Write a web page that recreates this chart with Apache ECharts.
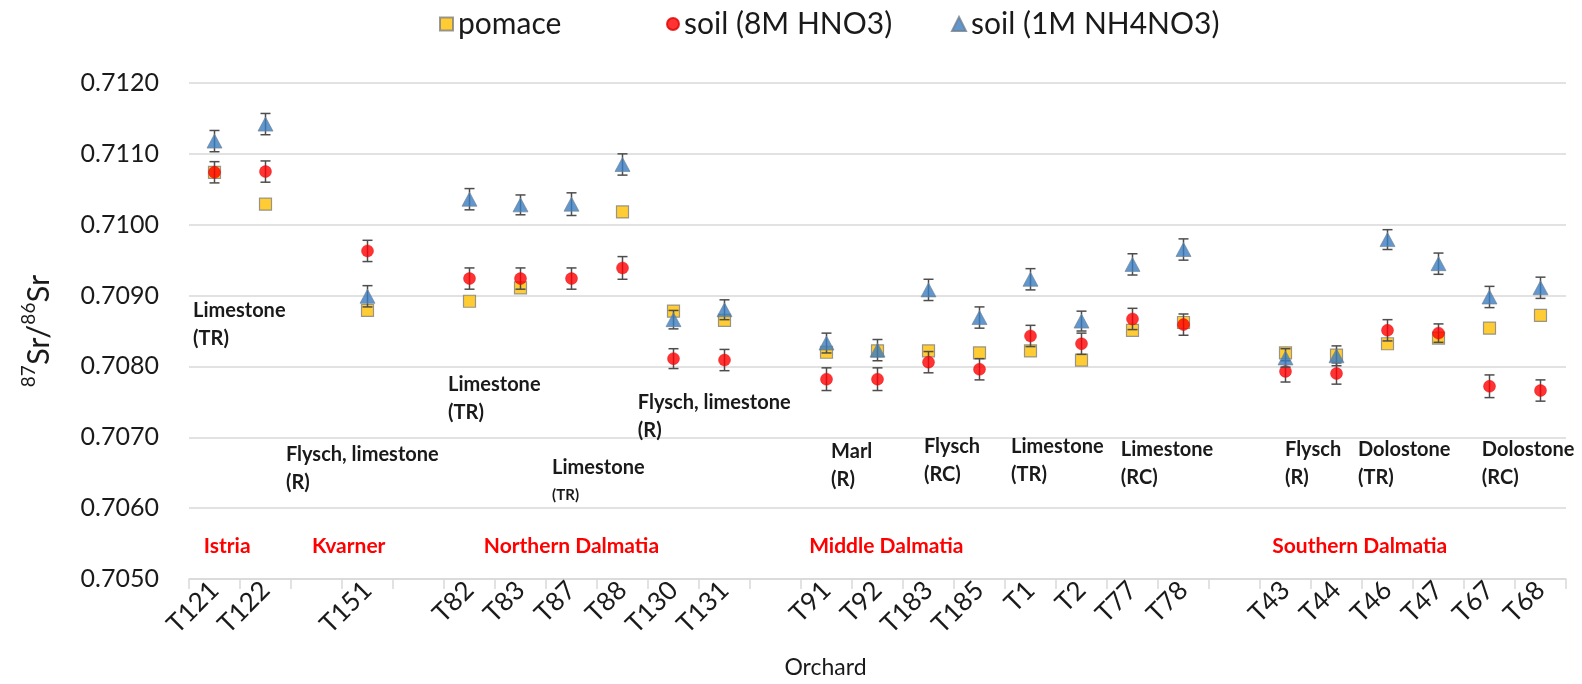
<!DOCTYPE html>
<html>
<head>
<meta charset="utf-8">
<title>Sr isotope ratios by orchard</title>
<script src="https://cdn.jsdelivr.net/npm/echarts@6/dist/echarts.min.js"></script>
<style>
  html, body { margin: 0; padding: 0; background: #fff; }
  #chart { width: 1582px; height: 684px; }
</style>
</head>
<body>
<div id="chart"></div>
<script>
// Orchards along the x axis; empty strings leave a gap between regions
const categories = ['T121', 'T122', '', 'T151', '', 'T82', 'T83', 'T87', 'T88', 'T130', 'T131', '',
  'T91', 'T92', 'T183', 'T185', 'T1', 'T2', 'T77', 'T78', '',
  'T43', 'T44', 'T46', 'T47', 'T67', 'T68'];

// 87Sr/86Sr ratios
const pomace = [0.71074, 0.71029, null, 0.70879, null, 0.70892, 0.70911, null, 0.71018, 0.70878, 0.70865, null,
  0.70820, 0.70822, 0.70822, 0.70819, 0.70822, 0.70809, 0.70851, 0.70862, null,
  0.70819, 0.70816, 0.70832, 0.70840, 0.70854, 0.70872];

const soilHNO3 = [0.71074, 0.71075, null, 0.70963, null, 0.70924, 0.70924, 0.70924, 0.70939, 0.70811, 0.70809, null,
  0.70782, 0.70782, 0.70806, 0.70796, 0.70843, 0.70832, 0.70867, 0.70859, null,
  0.70793, 0.70790, 0.70851, 0.70847, 0.70772, 0.70766];

const soilNH4NO3 = [0.71118, 0.71142, null, 0.70899, null, 0.71036, 0.71028, 0.71029, 0.71085, 0.70866, 0.70880, null,
  0.70833, 0.70823, 0.70908, 0.70869, 0.70923, 0.70864, 0.70944, 0.70965, null,
  0.70812, 0.70815, 0.70979, 0.70945, 0.70898, 0.70911];

// uncertainty (±) on the soil measurements
const errHNO3 = [0.00015, 0.00015, null, 0.00015, null, 0.00015, 0.00015, 0.00015, 0.00016, 0.00014, 0.00015, null,
  0.00016, 0.00016, 0.00015, 0.00015, 0.00015, 0.00015, 0.00015, 0.00015, null,
  0.00015, 0.00015, 0.00015, 0.00013, 0.00016, 0.00015];

const errNH4NO3 = [0.00015, 0.00015, null, 0.00015, null, 0.00015, 0.00014, 0.00016, 0.00015, 0.00013, 0.00014, null,
  0.00014, 0.00015, 0.00015, 0.00015, 0.00015, 0.00014, 0.00015, 0.00015, null,
  0.00013, 0.00014, 0.00014, 0.00015, 0.00015, 0.00015];

// y axis tick range
const yMin = 0.7050, yMax = 0.7120, yStep = 0.0010;

// geology notes: [x (category units), y (ratio, top of text), text]
const lithologyNotes = [
  [-0.42, 0.70898, 'Limestone\n(TR)'],
  [1.40, 0.70695, 'Flysch, limestone\n(R)'],
  [4.58, 0.70794, 'Limestone\n(TR)'],
  [6.62, 0.70677, 'Limestone\n{small|(TR)}'],
  [8.30, 0.70769, 'Flysch, limestone\n(R)'],
  [12.09, 0.70699, 'Marl\n(R)'],
  [13.91, 0.70706, 'Flysch\n(RC)'],
  [15.62, 0.70706, 'Limestone\n(TR)'],
  [17.77, 0.70703, 'Limestone\n(RC)'],
  [20.99, 0.70703, 'Flysch\n(R)'],
  [22.42, 0.70703, 'Dolostone\n(TR)'],
  [24.85, 0.70703, 'Dolostone\n(RC)']
];

// regions: [x (category units), y (ratio, text middle), name]
const regionNotes = [
  [-0.21, 0.70546, 'Istria'],
  [1.91, 0.70546, 'Kvarner'],
  [5.28, 0.70546, 'Northern Dalmatia'],
  [11.66, 0.70546, 'Middle Dalmatia'],
  [20.74, 0.70546, 'Southern Dalmatia']
];

const FONT = 'Lato, "Open Sans", sans-serif';
const GRID = '#d9d9d9';
const INK = '#1a1a1a';

function points(values) {
  return values.map((v, i) => (v == null ? null : [i, v])).filter(Boolean);
}
function errorRanges(values, errs) {
  return values.map((v, i) => (v == null ? null : [i, v - errs[i], v + errs[i]])).filter(Boolean);
}

function renderErrorBar(params, api) {
  const x = api.value(0);
  const top = api.coord([x, api.value(2)]);
  const bot = api.coord([x, api.value(1)]);
  const half = 5;
  const style = { stroke: '#4d4d4d', lineWidth: 1.5 };
  return {
    type: 'group',
    children: [
      { type: 'line', shape: { x1: top[0], y1: top[1], x2: bot[0], y2: bot[1] }, style: style },
      { type: 'line', shape: { x1: top[0] - half, y1: top[1], x2: top[0] + half, y2: top[1] }, style: style },
      { type: 'line', shape: { x1: bot[0] - half, y1: bot[1], x2: bot[0] + half, y2: bot[1] }, style: style }
    ]
  };
}

function renderNote(list, style) {
  return function (params, api) {
    const p = api.coord([api.value(0), api.value(1)]);
    return {
      type: 'text',
      x: p[0],
      y: p[1],
      style: Object.assign({ text: list[params.dataIndex][2] }, style)
    };
  };
}

const chart = echarts.init(document.getElementById('chart'), null, { renderer: 'canvas' });

const legendText = { fontFamily: FONT, fontSize: 30, color: INK };

chart.setOption({
  backgroundColor: '#ffffff',
  animation: false,
  textStyle: { fontFamily: FONT },
  grid: { left: 189, right: 16, top: 83, bottom: 104, containLabel: false },
  legend: [
    { data: [{ name: 'pomace', icon: 'rect' }], left: 434, top: 4, itemWidth: 13, itemHeight: 13, textStyle: legendText, selectedMode: false },
    { data: [{ name: 'soil (8M HNO3)', icon: 'circle' }], left: 661, top: 4, itemWidth: 12, itemHeight: 12, textStyle: legendText, selectedMode: false },
    { data: [{ name: 'soil (1M NH4NO3)', icon: 'triangle' }], left: 946, top: 4, itemWidth: 14, itemHeight: 14, textStyle: legendText, selectedMode: false }
  ],
  xAxis: [
    {
      type: 'category',
      data: categories,
      boundaryGap: true,
      name: 'Orchard',
      nameLocation: 'middle',
      nameGap: 77,
      nameTextStyle: { fontFamily: FONT, fontSize: 23, color: INK, padding: [0, 104, 0, 0] },
      axisLine: { lineStyle: { color: GRID, width: 1.5 } },
      axisTick: { show: true, interval: 0, length: 10, lineStyle: { color: GRID, width: 1.5 } },
      axisLabel: { interval: 0, rotate: 45, margin: 7, fontFamily: FONT, fontSize: 26, color: INK },
      splitLine: { show: false }
    },
    { type: 'value', min: -0.5, max: categories.length - 0.5, show: false }
  ],
  yAxis: {
    type: 'value',
    min: yMin,
    max: yMax,
    interval: yStep,
    name: '{sup|87}{base|Sr/}{sup|86}{base|Sr}',
    nameLocation: 'middle',
    nameRotate: 90,
    nameGap: 135,
    nameTextStyle: {
      rich: {
        base: { fontFamily: FONT, fontSize: 31, color: INK, lineHeight: 35, verticalAlign: 'bottom' },
        sup: { fontFamily: FONT, fontSize: 19, color: INK, lineHeight: 35, verticalAlign: 'top' }
      }
    },
    axisLine: { show: false },
    axisTick: { show: false },
    axisLabel: {
      margin: 30,
      fontFamily: FONT,
      fontSize: 25,
      color: INK,
      formatter: v => v.toFixed(4)
    },
    splitLine: { lineStyle: { color: GRID, width: 1.5 } }
  },
  series: [
    {
      name: 'pomace',
      type: 'scatter',
      symbol: 'rect',
      symbolSize: 12,
      z: 2,
      itemStyle: { color: '#FFC000', borderColor: '#7f7f7f', borderWidth: 1.2 },
      data: points(pomace)
    },
    {
      name: 'soilHNO3-err',
      type: 'custom',
      z: 3,
      silent: true,
      renderItem: renderErrorBar,
      encode: { x: 0, y: [1, 2] },
      data: errorRanges(soilHNO3, errHNO3)
    },
    {
      name: 'soil (8M HNO3)',
      type: 'scatter',
      symbol: 'circle',
      symbolSize: 12,
      z: 4,
      itemStyle: { color: '#FF0000', borderColor: '#e00000', borderWidth: 0.5 },
      data: points(soilHNO3)
    },
    {
      name: 'soilNH4NO3-err',
      type: 'custom',
      z: 5,
      silent: true,
      renderItem: renderErrorBar,
      encode: { x: 0, y: [1, 2] },
      data: errorRanges(soilNH4NO3, errNH4NO3)
    },
    {
      name: 'soil (1M NH4NO3)',
      type: 'scatter',
      symbol: 'triangle',
      symbolSize: [15, 14],
      z: 6,
      itemStyle: { color: '#3A7DC0', borderColor: '#6f7f8f', borderWidth: 0.8 },
      data: points(soilNH4NO3)
    },
    {
      name: 'lithology',
      type: 'custom',
      xAxisIndex: 1,
      z: 7,
      silent: true,
      renderItem: renderNote(lithologyNotes, {
        fill: INK,
        fontWeight: 'bold',
        fontSize: 20,
        fontFamily: FONT,
        lineHeight: 28,
        align: 'left',
        verticalAlign: 'top',
        rich: { small: { fontFamily: FONT, fontWeight: 'bold', fontSize: 15, lineHeight: 28, fill: INK } }
      }),
      encode: { x: 0, y: 1 },
      data: lithologyNotes.map(n => [n[0], n[1]])
    },
    {
      name: 'regions',
      type: 'custom',
      xAxisIndex: 1,
      z: 7,
      silent: true,
      renderItem: renderNote(regionNotes, {
        fill: '#FF0000',
        fontWeight: 'bold',
        fontSize: 21,
        fontFamily: FONT,
        align: 'left',
        verticalAlign: 'middle'
      }),
      encode: { x: 0, y: 1 },
      data: regionNotes.map(n => [n[0], n[1]])
    }
  ]
});
</script>
</body>
</html>
